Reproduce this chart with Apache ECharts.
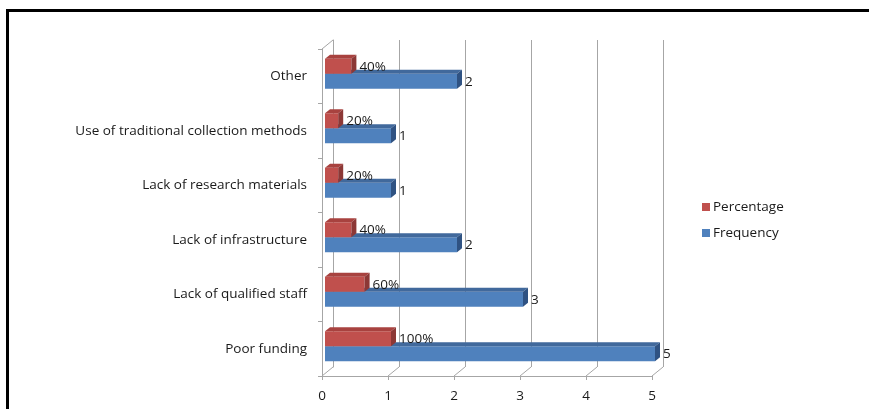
<!DOCTYPE html>
<html>
<head>
<meta charset="utf-8">
<script src="https://cdn.jsdelivr.net/npm/echarts@6/dist/echarts.min.js"></script>
<style>
  html, body { margin: 0; padding: 0; background: #fff; }
  #chart { width: 869px; height: 409px; }
</style>
</head>
<body>
<div id="chart"></div>
<script>
// Problems reported, listed bottom-to-top as they appear on the category axis
const categories = [
  'Poor funding',
  'Lack of qualified staff',
  'Lack of infrastructure',
  'Lack of research materials',
  'Use of traditional collection methods',
  'Other'
];
const frequency = [5, 3, 2, 1, 1, 2];
const percentage = [1, 0.6, 0.4, 0.2, 0.2, 0.4];
const xTicks = [0, 1, 2, 3, 4, 5];

const FONT = '"Open Sans", "Liberation Sans", sans-serif';
const FONT_SIZE = 13.5;
const TEXT = '#1a1a1a';
const WALL = '#a6a6a6';
const WALL_DEPTH = [11, -9];   // offset of the back wall from the front plane
const BAR_DEPTH = [5, -4];     // thickness of each 3D bar

const chart = echarts.init(document.getElementById('chart'));

// Draws one 3D bar (front face, top face, side face) plus its value label.
// slot 0 sits just above the band centre, slot 1 just below it.
function bar3d(slot, face, top, side, fmt) {
  return function (params, api) {
    const v = api.value(0);
    const ci = api.value(1);
    const start = api.coord([0, ci]);
    const end = api.coord([v, ci]);
    const band = api.size([0, 1])[1];
    const h = band * 0.275;
    const y = start[1] - h + slot * h;
    const x0 = start[0];
    const x1 = end[0];
    const dx = BAR_DEPTH[0], dy = BAR_DEPTH[1];
    return {
      type: 'group',
      children: [
        { type: 'rect', shape: { x: x0, y: y, width: x1 - x0, height: h }, style: { fill: face } },
        { type: 'polygon', shape: { points: [[x0, y], [x1, y], [x1 + dx, y + dy], [x0 + dx, y + dy]] }, style: { fill: top } },
        { type: 'polygon', shape: { points: [[x1, y], [x1 + dx, y + dy], [x1 + dx, y + h + dy], [x1, y + h]] }, style: { fill: side } },
        {
          type: 'text',
          style: {
            text: fmt(v), x: x1 + dx + 3, y: y + h / 2 + 0.5,
            verticalAlign: 'middle', textVerticalAlign: 'middle',
            font: FONT_SIZE + 'px ' + FONT, fill: TEXT
          }
        }
      ]
    };
  };
}

// Floor edges running back from each value tick, plus the top edge of the side wall.
function floorEdges(params, api) {
  const k = api.value(0);
  const p = api.coord([k, 0]);
  const band = api.size([0, 1])[1];
  const yb = p[1] + band / 2;
  const children = [{
    type: 'line',
    shape: { x1: p[0], y1: yb, x2: p[0] + WALL_DEPTH[0], y2: yb + WALL_DEPTH[1] },
    style: { stroke: WALL, lineWidth: 1 }
  }];
  if (k === 0) {
    const yt = api.coord([0, categories.length - 1])[1] - band / 2;
    children.push({
      type: 'line',
      shape: { x1: p[0], y1: yt, x2: p[0] + WALL_DEPTH[0], y2: yt + WALL_DEPTH[1] },
      style: { stroke: WALL, lineWidth: 1 }
    });
  }
  return { type: 'group', children: children };
}

const front = { left: 322, top: 49, width: 330, height: 327 };

chart.setOption({
  animation: false,
  backgroundColor: '#fff',
  textStyle: { fontFamily: FONT },
  graphic: [
    { type: 'rect', shape: { x: 6, y: 9, width: 863, height: 3 }, style: { fill: '#000' }, z: 100 },
    { type: 'rect', shape: { x: 6, y: 9, width: 3, height: 400 }, style: { fill: '#000' }, z: 100 }
  ],
  legend: {
    orient: 'vertical',
    left: 697,
    top: 195,
    itemWidth: 8,
    itemHeight: 8,
    itemGap: 12,
    icon: 'rect',
    data: ['Percentage', 'Frequency'],
    textStyle: { fontFamily: FONT, fontSize: FONT_SIZE, color: TEXT, padding: [0, 0, 0, -2] }
  },
  grid: [
    front,
    { left: front.left + 3, top: front.top - 2.5, width: front.width, height: front.height },
    { left: front.left + WALL_DEPTH[0], top: front.top + WALL_DEPTH[1], width: front.width, height: front.height }
  ],
  xAxis: [
    {
      gridIndex: 0, type: 'value', min: 0, max: 5, interval: 1,
      axisLine: { show: true, lineStyle: { color: WALL } },
      axisTick: { show: true, length: 4, lineStyle: { color: WALL } },
      axisLabel: { margin: 13, fontSize: FONT_SIZE, color: TEXT, fontFamily: FONT },
      splitLine: { show: false }
    },
    { gridIndex: 1, type: 'value', min: 0, max: 5, interval: 1, show: false },
    {
      gridIndex: 2, type: 'value', min: 0, max: 5, interval: 1,
      axisLine: { show: false }, axisTick: { show: false }, axisLabel: { show: false },
      splitLine: { show: true, lineStyle: { color: WALL, width: 1 } }
    }
  ],
  yAxis: [
    {
      gridIndex: 0, type: 'category', data: categories,
      axisLine: { show: true, lineStyle: { color: WALL } },
      axisTick: { show: true, length: 4, lineStyle: { color: WALL } },
      axisLabel: { margin: 15, fontSize: FONT_SIZE, color: TEXT, fontFamily: FONT }
    },
    { gridIndex: 1, type: 'category', data: categories, show: false },
    {
      gridIndex: 2, type: 'category', data: categories,
      axisLine: { show: true, lineStyle: { color: WALL } },
      axisTick: { show: false }, axisLabel: { show: false }, splitLine: { show: false }
    }
  ],
  series: [
    {
      name: 'floor', type: 'custom', xAxisIndex: 0, yAxisIndex: 0,
      data: xTicks.map(v => [v, 0]), encode: { x: 0, y: 1 },
      renderItem: floorEdges, silent: true, z: 1
    },
    {
      name: 'Frequency', type: 'custom', xAxisIndex: 1, yAxisIndex: 1,
      itemStyle: { color: '#4F81BD' },
      data: frequency.map((v, i) => [v, i]), encode: { x: 0, y: 1 },
      renderItem: bar3d(1, '#4F81BD', '#41699C', '#2F5282', v => String(v)),
      z: 2
    },
    {
      name: 'Percentage', type: 'custom', xAxisIndex: 1, yAxisIndex: 1,
      itemStyle: { color: '#C0504D' },
      data: percentage.map((v, i) => [v, i]), encode: { x: 0, y: 1 },
      renderItem: bar3d(0, '#C0504D', '#A8423F', '#8C3836', v => Math.round(v * 100) + '%'),
      z: 3
    }
  ]
});
</script>
</body>
</html>
